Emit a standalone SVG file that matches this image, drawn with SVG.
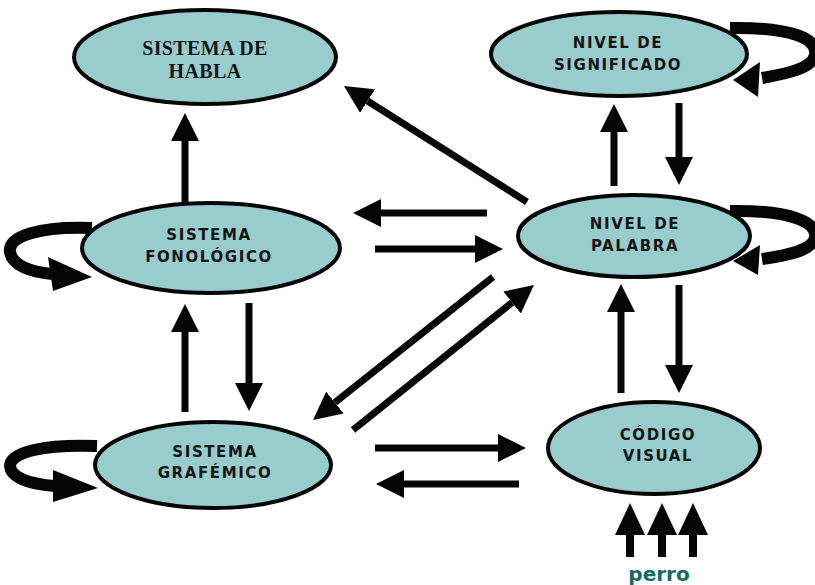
<svg xmlns="http://www.w3.org/2000/svg" width="815" height="585" viewBox="0 0 815 585">
<style>
.node ellipse{fill:#99cccc;stroke:#050505;stroke-width:4}
.lbl{font-family:"DejaVu Sans",Verdana,sans-serif;font-weight:bold;font-size:15px;letter-spacing:1.6px;fill:#141414;text-anchor:middle}
.ser{font-family:"Liberation Serif","Times New Roman",serif;font-weight:bold;font-size:20px;letter-spacing:0.4px;fill:#141414;text-anchor:middle}
.ln{stroke:#050505;stroke-width:7;fill:none;marker-end:url(#head)}
.lnb{stroke:#050505;stroke-width:8;fill:none;marker-end:url(#headL)}
.loop{stroke:#050505;stroke-width:12;fill:none}
.hd{fill:#050505}
.perro{font-family:"DejaVu Sans",Verdana,sans-serif;font-weight:bold;font-size:20px;fill:#156b67;text-anchor:middle}
</style>
<defs>
<marker id="head" viewBox="0 0 28 28" refX="0" refY="14" markerWidth="28" markerHeight="28" markerUnits="userSpaceOnUse" orient="auto">
<path d="M0,0 L28,14 L0,28 z" fill="#050505"/>
</marker>
<marker id="headL" viewBox="0 0 32 30" refX="0" refY="15" markerWidth="32" markerHeight="30" markerUnits="userSpaceOnUse" orient="auto">
<path d="M0,0 L32,15 L0,30 z" fill="#050505"/>
</marker>
</defs>

<g id="connectors">
<path class="ln" d="M185 205 V141"/>
<path class="ln" d="M527 202 L367.6 101"/>
<path class="ln" d="M487 213 H381"/>
<path class="ln" d="M375 249 H475"/>
<path class="ln" d="M493 277 L334.9 402.6"/>
<path class="ln" d="M353 430 L512.1 302.5"/>
<path class="ln" d="M185 412 V332"/>
<path class="ln" d="M249 303 V383"/>
<path class="ln" d="M375 448 H498"/>
<path class="ln" d="M519 484 H404"/>
<path class="ln" d="M614 186 V132"/>
<path class="ln" d="M679 103 V157"/>
<path class="ln" d="M621 393 V312"/>
<path class="ln" d="M679 285 V365"/>
<path class="lnb" d="M630 557 V535"/>
<path class="lnb" d="M662 557 V535"/>
<path class="lnb" d="M693 557 V535"/>
<path class="loop" d="M92 228 C40 226 8 236 10 252 C12 265 30 272 52 274"/>
<polygon class="hd" points="48,257 92,277 53,291"/>
<path class="loop" d="M97 446 C45 444 10 452 10 466 C11 478 30 484 55 486"/>
<polygon class="hd" points="53,470 98,488 53,502"/>
<path class="loop" d="M730 28 C790 27 818 38 815 55 C812 68 790 73 762 78"/>
<polygon class="hd" points="760,62 733,80 758,97"/>
<path class="loop" d="M730 211 C790 210 818 222 815 238 C812 250 790 255 762 259"/>
<polygon class="hd" points="760,245 733,261 758,275"/>
</g>

<g id="sistema-habla" class="node">
<ellipse cx="205" cy="57" rx="131" ry="47"/>
<text class="ser" x="205" y="55">SISTEMA DE</text>
<text class="ser" x="205" y="78">HABLA</text>
</g>
<g id="nivel-significado" class="node">
<ellipse cx="619" cy="54" rx="128" ry="42"/>
<text class="lbl" x="618" y="48">NIVEL DE</text>
<text class="lbl" x="618" y="70">SIGNIFICADO</text>
</g>
<g id="sistema-fonologico" class="node">
<ellipse cx="211" cy="248" rx="129" ry="45"/>
<text class="lbl" x="209" y="240">SISTEMA</text>
<text class="lbl" x="209" y="262">FONOLÓGICO</text>
</g>
<g id="nivel-palabra" class="node">
<ellipse cx="634" cy="236" rx="116" ry="41"/>
<text class="lbl" x="635" y="229">NIVEL DE</text>
<text class="lbl" x="635" y="251">PALABRA</text>
</g>
<g id="sistema-grafemico" class="node">
<ellipse cx="213" cy="465" rx="118" ry="43"/>
<text class="lbl" x="215" y="457">SISTEMA</text>
<text class="lbl" x="215" y="478">GRAFÉMICO</text>
</g>
<g id="codigo-visual" class="node">
<ellipse cx="654" cy="448" rx="106" ry="46"/>
<text class="lbl" x="658" y="440">CÓDIGO</text>
<text class="lbl" x="658" y="461">VISUAL</text>
</g>
<text class="perro" x="659" y="581">perro</text>
</svg>
